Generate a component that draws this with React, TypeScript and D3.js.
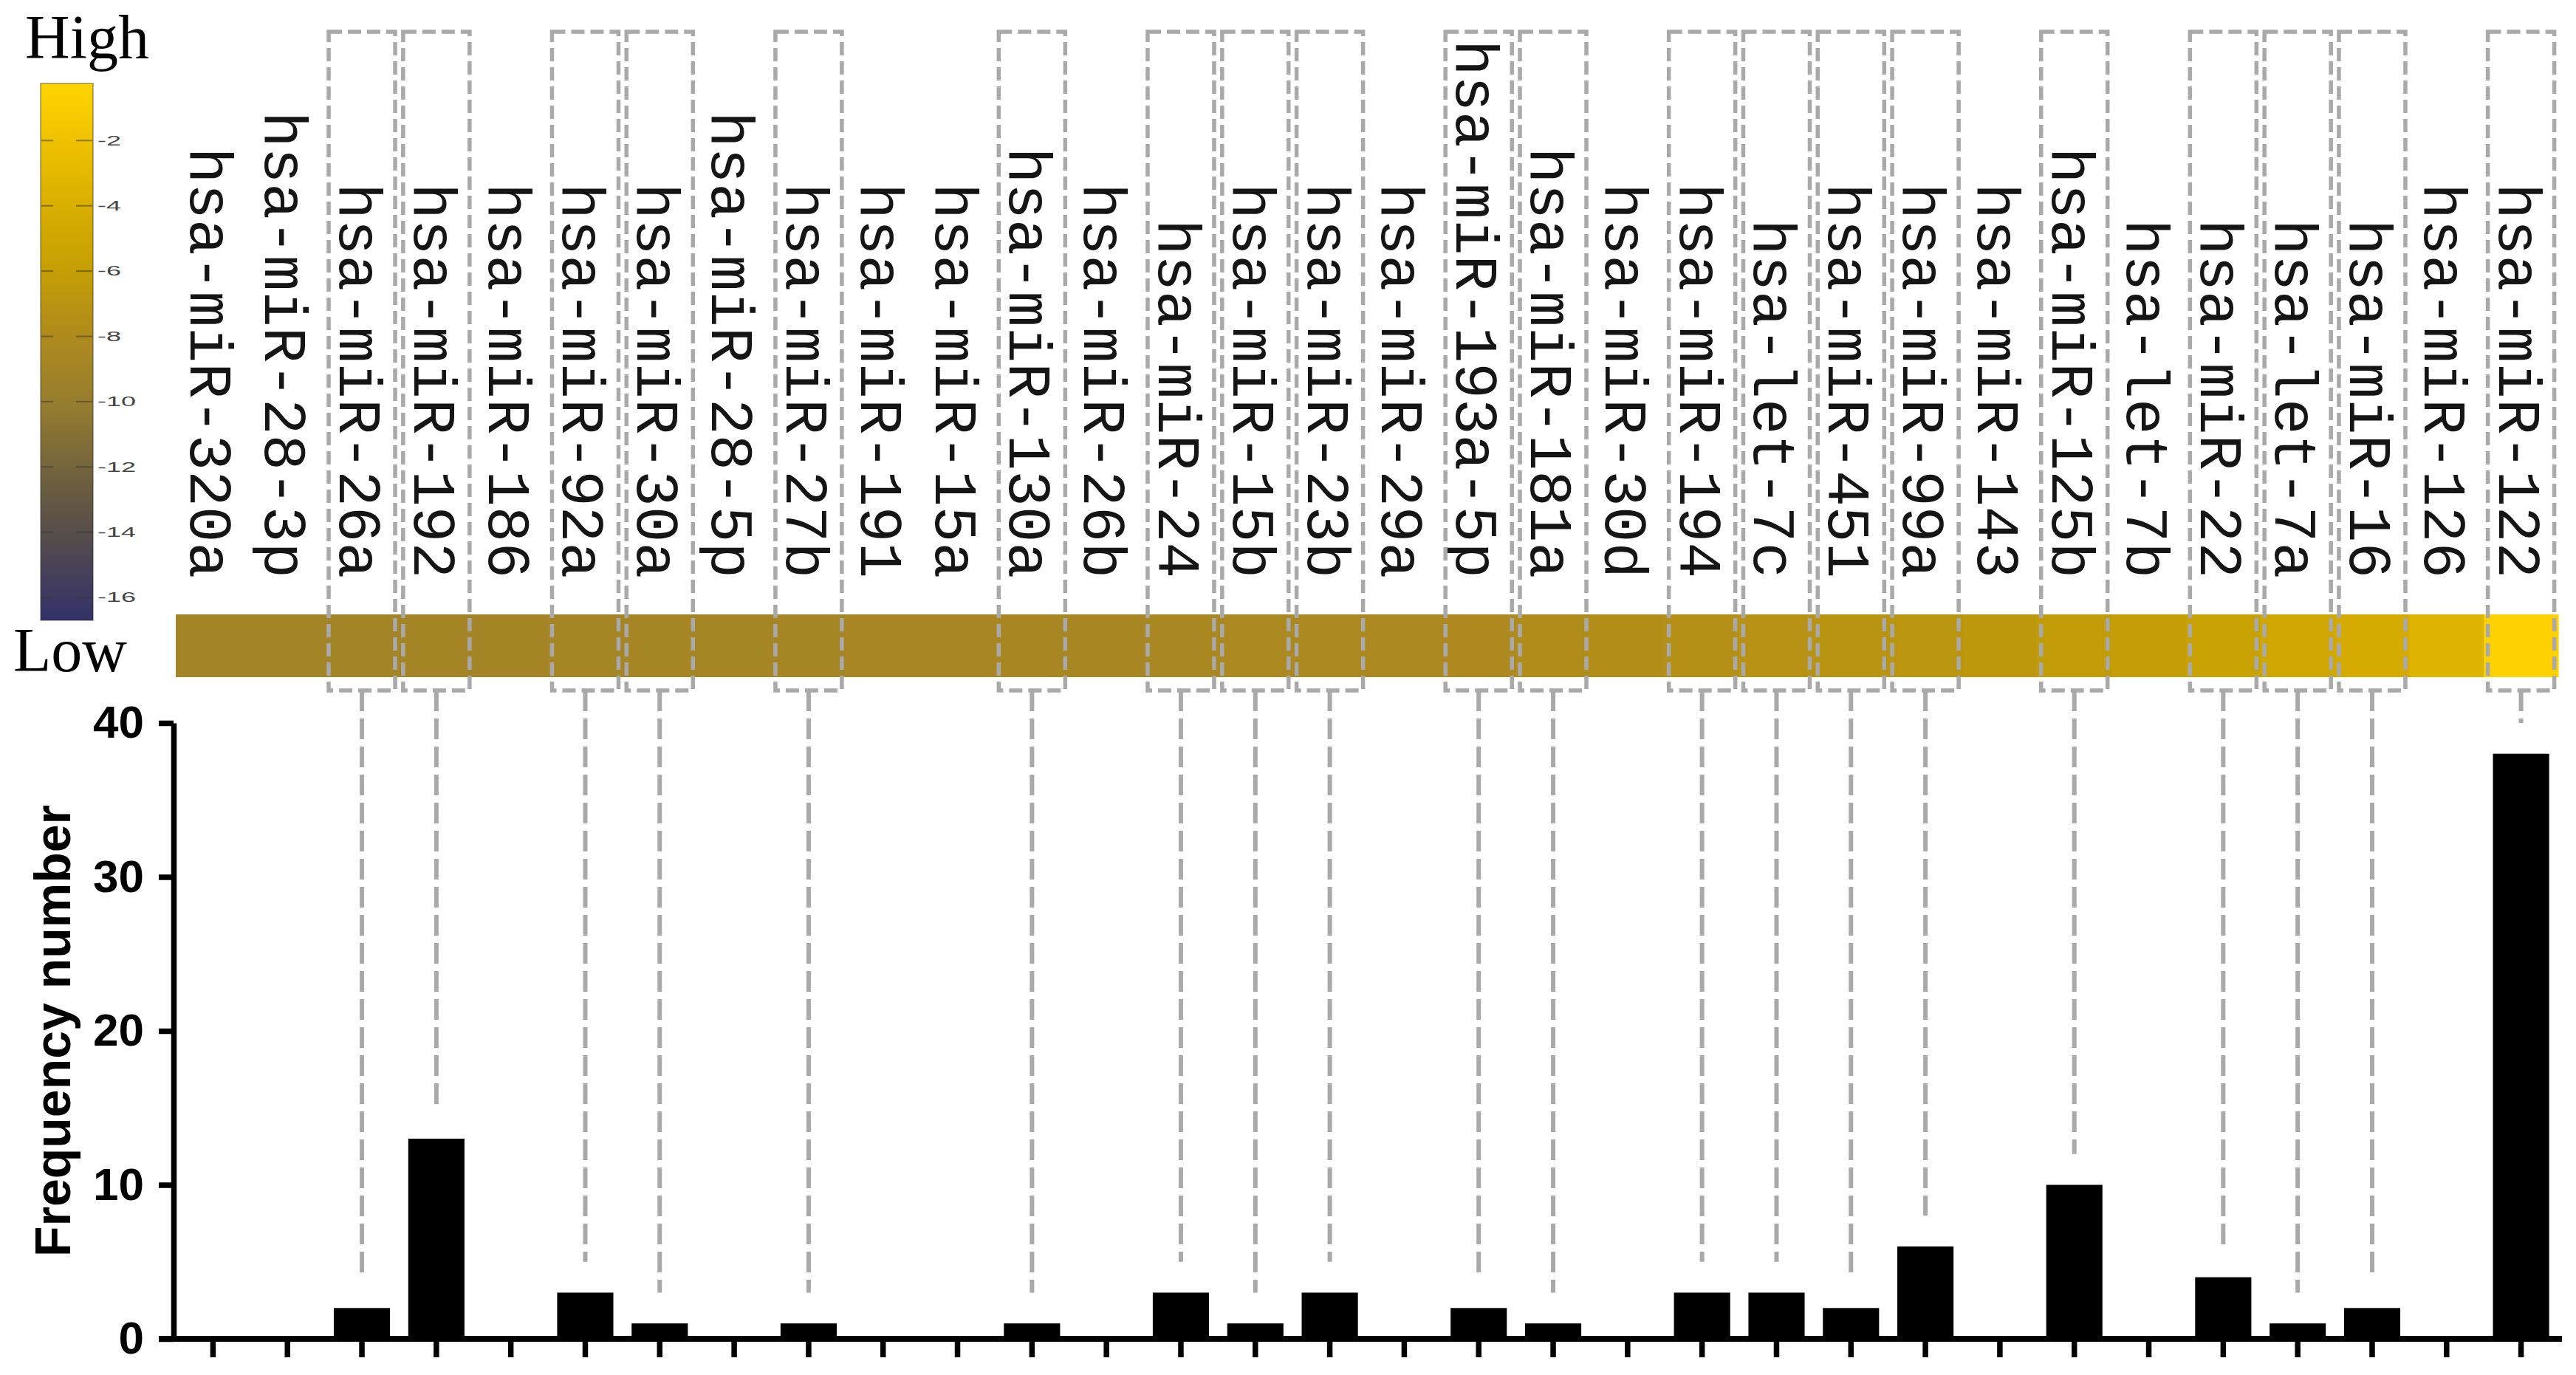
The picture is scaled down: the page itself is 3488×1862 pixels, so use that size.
import React, { useEffect, useRef } from 'react'
import * as d3 from 'd3'

// miRNAs, ordered as in the heat strip (low -> high expression)
const mirnas = [
  'hsa-miR-320a', 'hsa-miR-28-3p', 'hsa-miR-26a', 'hsa-miR-192', 'hsa-miR-186',
  'hsa-miR-92a', 'hsa-miR-30a', 'hsa-miR-28-5p', 'hsa-miR-27b', 'hsa-miR-191',
  'hsa-miR-15a', 'hsa-miR-130a', 'hsa-miR-26b', 'hsa-miR-24', 'hsa-miR-15b',
  'hsa-miR-23b', 'hsa-miR-29a', 'hsa-miR-193a-5p', 'hsa-miR-181a', 'hsa-miR-30d',
  'hsa-miR-194', 'hsa-let-7c', 'hsa-miR-451', 'hsa-miR-99a', 'hsa-miR-143',
  'hsa-miR-125b', 'hsa-let-7b', 'hsa-miR-22', 'hsa-let-7a', 'hsa-miR-16',
  'hsa-miR-126', 'hsa-miR-122'
]

const frequency = [
  0, 0, 2, 13, 0, 3, 1, 0, 1, 0, 0, 1, 0, 3, 1, 3,
  0, 2, 1, 0, 3, 3, 2, 6, 0, 10, 0, 4, 1, 2, 0, 38
]

const expression = [
  -9.0, -9.0, -8.95, -8.9, -8.9, -8.8, -8.8, -8.7, -8.7, -8.6, -8.6, -8.5, -8.5, -8.4, -8.3, -8.3,
  -8.2, -8.1, -7.8, -7.6, -7.4, -7.2, -7.0, -6.9, -6.6, -6.3, -6.0, -5.6, -5.0, -4.4, -3.4, -0.5
]

const freqTicks = [0, 10, 20, 30, 40]
const colorTicks = [-2, -4, -6, -8, -10, -12, -14, -16]
const colorDomain = [-16.7, -0.25]
const colorStops = [-16.7, -14, -12, -10, -8, -6, -4, -2, -0.25]
const colorHex = ['#333269', '#574d4a', '#74653c', '#977d2e', '#ae8a1e', '#c49e04', '#d9ae00', '#eec200', '#ffd500']

const GREY = '#a9a9a9'

export default function App () {
  const ref = useRef<SVGSVGElement>(null)

  useEffect(() => {
    const svg = d3.select(ref.current)
    svg.selectAll('*').remove()

    const x = d3.scaleBand<string>().domain(mirnas).range([238, 3464])
    const xBar = d3.scaleBand<string>().domain(mirnas).range([238, 3464])
      .paddingInner(0.245).paddingOuter(0.1225)
    const y = d3.scaleLinear().domain([0, 40]).range([1813, 979])
    const color = d3.scaleLinear<string>().domain(colorStops).range(colorHex).clamp(true)
    const cbY = d3.scaleLinear().domain(colorDomain).range([840, 113])
    const cx = (m: string) => (x(m) as number) + x.bandwidth() / 2

    const rows = mirnas.map((m, i) => ({ m, f: frequency[i], e: expression[i] }))

    // colour bar
    const grad = svg.append('defs').append('linearGradient')
      .attr('id', 'cb').attr('x1', 0).attr('y1', 1).attr('x2', 0).attr('y2', 0)
    d3.range(0, 1.0001, 0.05).forEach(t => {
      const v = colorDomain[0] + t * (colorDomain[1] - colorDomain[0])
      grad.append('stop').attr('offset', t).attr('stop-color', color(v))
    })
    svg.append('rect')
      .attr('x', 55).attr('y', cbY(colorDomain[1]))
      .attr('width', 71).attr('height', cbY(colorDomain[0]) - cbY(colorDomain[1]))
      .attr('fill', 'url(#cb)')
      .attr('stroke', '#222').attr('stroke-opacity', 0.35).attr('stroke-width', 2)

    const cbt = svg.append('g')
    colorTicks.forEach(t => {
      cbt.append('line').attr('x1', 56).attr('x2', 72).attr('y1', cbY(t)).attr('y2', cbY(t))
        .attr('stroke', '#333').attr('stroke-opacity', 0.5).attr('stroke-width', 2)
      cbt.append('line').attr('x1', 103).attr('x2', 125).attr('y1', cbY(t)).attr('y2', cbY(t))
        .attr('stroke', '#333').attr('stroke-opacity', 0.5).attr('stroke-width', 2)
      cbt.append('text')
        .attr('transform', `translate(132,${cbY(t)}) scale(2,1)`)
        .attr('dy', '0.35em')
        .attr('font-family', 'Liberation Sans, Arial, sans-serif')
        .attr('font-size', 18).attr('fill', '#444')
        .text(String(t))
    })

    svg.append('text').attr('x', 118).attr('y', 79).attr('text-anchor', 'middle')
      .attr('font-family', 'Liberation Serif, Times New Roman, serif').attr('font-size', 84)
      .text('High')
    svg.append('text').attr('x', 95).attr('y', 909).attr('text-anchor', 'middle')
      .attr('font-family', 'Liberation Serif, Times New Roman, serif').attr('font-size', 84)
      .text('Low')

    // heat strip
    svg.append('g').selectAll('rect').data(rows).join('rect')
      .attr('x', d => x(d.m) as number).attr('y', 832)
      .attr('width', x.bandwidth() + 0.6).attr('height', 85)
      .attr('fill', d => color(d.e))

    // rotated labels
    svg.append('g').selectAll('text').data(rows).join('text')
      .attr('transform', d => `translate(${cx(d.m)},783) rotate(90)`)
      .attr('text-anchor', 'end').attr('dy', '0.37em')
      .attr('font-family', 'Liberation Mono, Courier New, monospace')
      .attr('font-size', 81).attr('fill', '#151515')
      .text(d => d.m)

    const hits = rows.filter(d => d.f > 0)

    // dashed boxes around labels that have bars
    svg.append('g').selectAll('rect').data(hits).join('rect')
      .attr('x', d => cx(d.m) - 45).attr('y', 43)
      .attr('width', 90).attr('height', 892)
      .attr('fill', 'none').attr('stroke', GREY)
      .attr('stroke-width', 5.5).attr('stroke-dasharray', '18 8')

    // connectors down to the bars
    svg.append('g').selectAll('line').data(hits).join('line')
      .attr('x1', d => cx(d.m)).attr('x2', d => cx(d.m))
      .attr('y1', 935).attr('y2', d => y(d.f + 2))
      .attr('stroke', GREY).attr('stroke-width', 6).attr('stroke-dasharray', '28 10')

    // bars
    svg.append('g').selectAll('rect').data(rows).join('rect')
      .attr('x', d => xBar(d.m) as number).attr('y', d => y(d.f))
      .attr('width', xBar.bandwidth()).attr('height', d => y(0) - y(d.f))
      .attr('fill', '#000')

    // axes
    const yAxis = svg.append('g').attr('transform', 'translate(235,0)')
      .call(d3.axisLeft(y).tickValues(freqTicks).tickSize(20).tickSizeOuter(0).tickPadding(20))
    yAxis.selectAll('path, line').attr('stroke', '#000').attr('stroke-width', 7.5)
    yAxis.selectAll('text')
      .attr('font-family', 'Liberation Sans, Arial, sans-serif')
      .attr('font-weight', 'bold').attr('font-size', 62).attr('fill', '#000')

    const xAxis = svg.append('g').attr('transform', `translate(0,${y(0)})`)
      .call(d3.axisBottom(xBar).tickSize(25).tickSizeOuter(0).tickFormat(() => ''))
    xAxis.select('.domain').remove()
    xAxis.selectAll('line').attr('stroke', '#000').attr('stroke-width', 7.5)
    const [r0, r1] = x.range()
    svg.append('line')
      .attr('x1', r0 - 23).attr('x2', r1 + 5).attr('y1', y(0)).attr('y2', y(0))
      .attr('stroke', '#000').attr('stroke-width', 8)

    svg.append('text')
      .attr('transform', `translate(95,${(y(0) + y(40)) / 2}) rotate(-90)`)
      .attr('text-anchor', 'middle')
      .attr('font-family', 'Liberation Sans, Arial, sans-serif')
      .attr('font-weight', 'bold').attr('font-size', 68)
      .text('Frequency number')
  }, [])

  return (
    <svg ref={ref} width={3488} height={1862}
      style={{ position: 'absolute', left: 0, top: 0, background: '#fff', display: 'block' }} />
  )
}
